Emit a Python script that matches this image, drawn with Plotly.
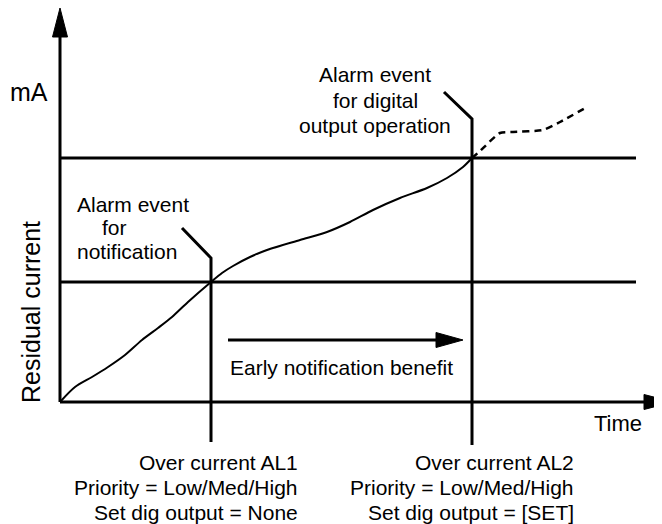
import plotly.graph_objects as go

# Diagram coordinates: x = time, y = residual current (origin at the axes corner)
curve_t = [0, 15, 32, 48, 65, 82, 98, 112, 128, 151, 162, 173, 190, 207, 240, 267, 290, 313, 340, 367, 387, 403, 412]
curve_ma = [0, 15, 25, 35, 47, 62, 74, 85, 100, 120, 129, 136, 145, 152, 162, 170, 180, 192, 204, 214, 224, 235, 244]
proj_t = [412, 420, 440, 453, 483, 500, 527]
proj_ma = [244, 251, 269, 270, 272, 280, 295]

al1_level = 120
al2_level = 244
al1_time = 151
al2_time = 412
threshold_end = 576
x_axis_end = 613
y_axis_end = 394

al1_labels = ["Over current AL1", "Priority = Low/Med/High", "Set dig output = None"]
al2_labels = ["Over current AL2", "Priority = Low/Med/High", "Set dig output = [SET]"]

FONT = "Liberation Sans, Arial, Helvetica, sans-serif"
BLACK = "#000000"

fig = go.Figure()

def line(xs, ys, width=3, dash="solid"):
    fig.add_trace(go.Scatter(x=xs, y=ys, mode="lines", hoverinfo="skip",
                             line=dict(color=BLACK, width=width, dash=dash), showlegend=False))

def head(tx, ty, dx, dy, length=29, half=7.5):
    # filled triangle arrow head; (dx,dy) unit direction
    bx, by = tx - dx * length, ty - dy * length
    px, py = -dy * half, dx * half
    fig.add_trace(go.Scatter(x=[tx, bx + px, bx - px, tx], y=[ty, by + py, by - py, ty],
                             mode="lines", fill="toself", fillcolor=BLACK,
                             line=dict(color=BLACK, width=1), hoverinfo="skip", showlegend=False))

# axes
line([0, 0], [0, y_axis_end - 25], width=3)
head(0, y_axis_end, 0, 1)
line([0, x_axis_end - 25], [0, 0], width=3)
head(x_axis_end, 0, 1, 0)

# thresholds
line([0, threshold_end], [al1_level, al1_level], width=3)
line([0, threshold_end], [al2_level, al2_level], width=3)

# alarm event markers with leaders
line([al1_time, al1_time, al1_time - 29], [-40, al1_level + 24, al1_level + 54], width=3)
line([al2_time, al2_time, al2_time - 28], [-43, al2_level + 39, al2_level + 66], width=3)

# curve
fig.add_trace(go.Scatter(x=curve_t, y=curve_ma, mode="lines", hoverinfo="skip", showlegend=False,
                         line=dict(color=BLACK, width=2, shape="spline", smoothing=0.8)))
fig.add_trace(go.Scatter(x=proj_t, y=proj_ma, mode="lines", hoverinfo="skip", showlegend=False,
                         line=dict(color=BLACK, width=2.5, shape="spline", smoothing=0.6, dash="7px,5px")))

# early notification arrow
line([168, 378], [62, 62], width=3)
head(403, 62, 1, 0, length=27, half=7.5)

def text(s, x, y, size=21, xanchor="left", angle=0):
    fig.add_annotation(x=x, y=y, text=s, showarrow=False, xanchor=xanchor, yanchor="middle",
                       textangle=angle, font=dict(family=FONT, size=size, color=BLACK))

text("mA", -31, 310, size=25, xanchor="center")
text("Residual current", -29, 90, size=25, xanchor="center", angle=-90)
text("Time", 532, -21, size=22)
text("Early notification benefit", 168, 35)

text("Alarm event", 15, 198)
text("for", 40, 175)
text("notification", 15, 151)

text("Alarm event", 315, 328, xanchor="center")
text("for digital", 315, 302, xanchor="center")
text("output operation", 315, 277, xanchor="center")

for i, s in enumerate(al1_labels):
    text(s, 240, -60 - 25 * i, xanchor="right")
for i, s in enumerate(al2_labels):
    text(s, 516, -60 - 25 * i, xanchor="right")

# page body has an 8px margin; size and ranges compensate so the axes corner sits at (60, 402)
fig.update_layout(
    width=654, height=516,
    margin=dict(l=0, r=0, t=0, b=0),
    paper_bgcolor="white", plot_bgcolor="white",
    xaxis=dict(range=[-52, 602], visible=False, fixedrange=True),
    yaxis=dict(range=[-122, 394], visible=False, fixedrange=True),
    showlegend=False,
)

fig.write_html("out.html")
